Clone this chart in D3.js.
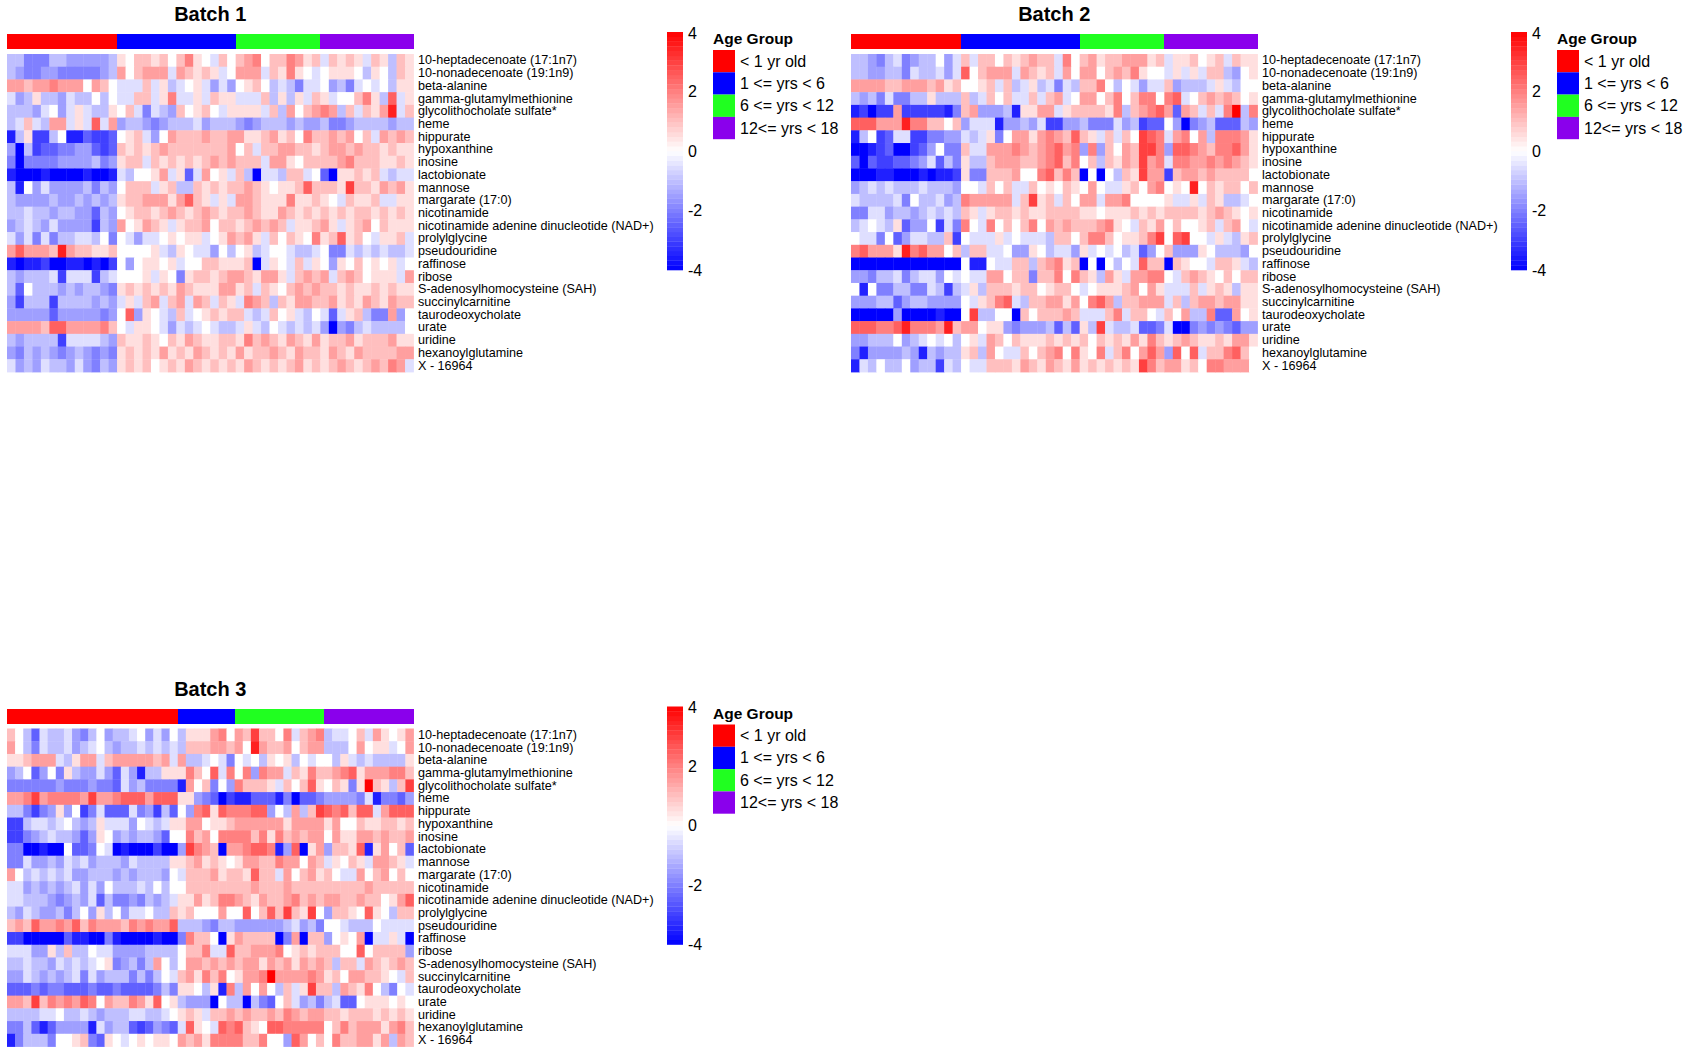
<!DOCTYPE html>
<html>
<head>
<meta charset="utf-8">
<script src="https://cdn.jsdelivr.net/npm/d3@7"></script>
<style>
  html, body { margin: 0; padding: 0; background: #fff; }
  svg { display: block; font-family: "Liberation Sans", Arial, Helvetica, sans-serif; }
</style>
</head>
<body>
<svg id="chart" width="1687" height="1052"></svg>
<script>
// ---------------- DATA ----------------
const metabolites = [
  "10-heptadecenoate (17:1n7)", "10-nonadecenoate (19:1n9)", "beta-alanine",
  "gamma-glutamylmethionine", "glycolithocholate sulfate*", "heme", "hippurate",
  "hypoxanthine", "inosine", "lactobionate", "mannose", "margarate (17:0)",
  "nicotinamide", "nicotinamide adenine dinucleotide (NAD+)", "prolylglycine",
  "pseudouridine", "raffinose", "ribose", "S-adenosylhomocysteine (SAH)",
  "succinylcarnitine", "taurodeoxycholate", "urate", "uridine",
  "hexanoylglutamine", "X - 16964"
];
const ageGroups = ["< 1 yr old", "1 <= yrs < 6", "6 <= yrs < 12", "12<= yrs < 18"];
const ageGroupColors = ["#FF0000", "#0000FF", "#20FF20", "#8A00EC"];
const colorTicks = [4, 2, 0, -2, -4];
const batchTitles = ["Batch 1", "Batch 2", "Batch 3"];

// number of samples (columns) per age group in each batch
const batch1GroupSizes = [13, 14, 10, 11];
const batch2GroupSizes = [13, 14, 10, 11];
const batch3GroupSizes = [21, 7, 11, 11];

// scaled values, one string per metabolite, one letter per sample:
// A=-4, B=-3.5, C=-3, D=-2.5, E=-2, F=-1.5, G=-1, H=-0.5, I=0, J=0.5, K=1, L=1.5, M=2, N=2.5, O=3, P=3.5, Q=4
const levelCodes = "ABCDEFGHIJKLMNOPQ";

const batch1Rows = [
  "GGEEEGGFFFFFG" + "JIKKJKIKMJIHKIKLMIKKMLJKHKJKJHKJGKJ",
  "GFEEFFEEEEEFG" + "LIKLLLHLKJKJHILLLHKJMJIHIJJJIGJIGKJ",
  "LLKLLMLLLILKI" + "HHHKHJGHIJHFHFIJKIGHGEHHIFGEHIHIGJJ",
  "HFGJGGFHGGIGI" + "HHKKHJMHHJHKJJHHHKGJGJHKJHIIKMJGNHJ",
  "GGGFHIFHJHGGJ" + "IKHEHGFKIJKIHJJJJHKGLIKLMLGKHKJLPHK",
  "GHKHGLLHJHNHL" + "FGGFEFGGGHFGGGFEFGGGFGFFGEEFGGGGFGG",
  "BGJCCGIBBDCCD" + "IJKHFILKKKLKKLLJJKLJKIMKKLKLIKHLKLK",
  "FAGCDDEEFFDCD" + "KJKJKLKKKKKKKLIKHKKLLKKJKLLKLKKJKJJ",
  "EAEEEEFFFFGEF" + "JKKHKJKJKJKLKLKKKHLLJIKKKKLMKKKJJKJ",
  "BAAABAAAABAAB" + "HGIIJLHJDHLIJHKGAHHGKKHIDAJJKJKHGHH",
  "GBIFHFFFFGEGF" + "IKKKHJKGGKJKJKKLKJIJJKNKKKJOKKJLKLJ",
  "GFFFFGFFGFGFG" + "JKKLLLJLNKJHJHLLKJJJMJJKJIHKJJKHHJJ",
  "GGHGGFGGFFDGF" + "IJKKJKLKJKLKJKKLKJJLKJKJKJKJKKJKJKJ",
  "FGHGFHFFFFCGF" + "LIJLKJHJKKLIKKJKLKLKHJJKLJHJKLIKJJJ",
  "HFHEHEGGHHGIE" + "IHFHHIJIJJHIJLKLJHKIKJIMJKNJKIHJJKH",
  "LNLLLKPLKKJJK" + "IIIIJHGJIHHFIGIJGHIIHGGHIEEHGHGHGGH",
  "BABBCAABBABAC" + "IFIJJIJHIIKKJJJKAHJIHKHJIFJIKIJIJHI",
  "GFGGGHCHHHCGH" + "IIIJHJIEJKKJKLLKJLLJHKLKLHKLKIJJJHL",
  "GDIGGGFGFGGFE" + "JKJKJKJLKJJJLLJKHKJIKLKLKKJKJJKJKJJ",
  "FCGGGCGGGGFGF" + "HJHKLHKLHLKHKJHMLKGKJLLKKLJKJLKJLKK",
  "FFFFFDFFFFFEF" + "INFJIHGKHIJKJKKHGHKIJHGIHDHJ" + "KGEELFI",
  "LLLLKNNLLLLMK" + "IHJJIHFHGHIHGGHJHGIHGHGHFAFEGHGGGGI",
  "GFGGGGCHHHHGF" + "KJJKJIKJLKJJKKJMKLKJLKJLJKKLJKKKLJJ",
  "FEGFGFEFGFEFE" + "JKJKJLJKJLKJKJLJKKLKJLKKJLKJLKKKKLL",
  "HFGFHGGFHFEGF" + "JKJKIJKJLKJKJKJLKJKJKLJKJKLKJKLKMLH"
];

const batch2Rows = [
  "GGFEGHEFGGIFH" + "KHKKIKJKLKKHMIKLJKKLLLJKHJJKIJKHKJJ",
  "GGFFGGEHGGHFH" + "NIKLLLHLKJKHLILLIKLKMJIIHJHJHKKGFIJ",
  "LLLLKKLLLKLJK" + "IIJKHKGHJGHEHGKKMIGIHFHHKFGGGHJHGII",
  "GFGEHEEGGJGGG" + "KGHKIKHHKHKLHILLIKMIKMMIMNHIKLKLKIJ",
  "BCACCLCCCCCBE" + "KLFFFGBJJLLHJKKKKJMGKLMNLDLKHKHMQGM",
  "NNNLLLPMMKKIK" + "FHHHBFFGFHCCFFGEEEHFGCDDIFAEFGDDDGF",
  "BGICDHHCCEEFF" + "HGHJEILLJLMLKNKJHKHKIONMHLMILGMMMLJ",
  "AABCDAACDFIEE" + "KHHLLLMLKLMNLMFMFKILKOOMFNNMLKMMNLJ",
  "DADCCDDEFHDGE" + "JGGKLLLKKLMNKMIKGKJLKOLMHMMLLMLMLKJ",
  "AAABBAAABABBC" + "JEEKKKLIIMNKMKAIAIGKJOLLCKLLKLKKKKI",
  "FGHGHGGGHGGGF" + "IIHKIKHHKIJIKJILIHHJKILMIJIPIKJKKIK",
  "HGGGGHEIGGHFG" + "MLLLLLHKOJKHKILLHLLMIIIIJHHJHKJGGHI",
  "EEHHFGGFGHGHG" + "KJHJKKJKJJKKKKJJIJJJKJKJKKKKJKLKJIJ",
  "GHIHGJDFFICHE" + "MIHMIKIKMILKLKKKLMJIHKJLIKIIJKHKLIH",
  "IHHEIDFHHGGKC" + "IHHHJHIHHHGKKIKMMKIJJKMOINOIIHJHGJK",
  "MNLLLJPMNLLIK" + "GKKHHIFFJIGHHFJHIHIGHDFIKFFFJIGGGFI",
  "AAAAAAAAAAAAA" + "IBBIHHKKGKLMJKAIAIGIHNKKAKJIIHKKJHG",
  "FFEGGHEGHHFIH" + "IHHLLIKKEKKMIMKJGLJHLLMMIHKLKJIKIKK",
  "IBIEEGGEEHGCG" + "HJGKKKJKKIJKKIHIJJJKLILJHHHKHJKJGJJ",
  "FFFGGDFGGFFFF" + "IHJKMNHGKKLLJLIMNLGKKLLLHKGKLLKLLJJ",
  "AAAAAFAAAABAA" + "IOGGIIAKIKKKLKHHHKMHKKIHKILGGMDDLIJ",
  "NNNMMNPMMMLPK" + "LLIJJFEFFFGDGDJGOHGGHDDEHAAEFEFEDFF",
  "FFGGGIFGHIHIG" + "IJHLKIKJJJKJKJKIKJKJLJMKJKLKJJKJLLJ",
  "EBFFFFGFBGFGG" + "JKGLIHHKIKLMIMJIMHKMILNLFNINHKKMNKI",
  "BHGIGGIFGGCHG" + "IHHKKKJLKJLKJLJKJKJKJOMKLLJKIMMLLLI"
];

const batch3Rows = [
  "KIGDHGGHFEGIFGGHIFHFI" + "GJJJLMI" + "LKOKKIMHKLM" + "GHHIKHLJIJL",
  "LIGEHGGHFGHIGFGGHGHGH" + "GKKKLLK" + "LIPLKKLIKLL" + "GGGILIJJHIL",
  "JJKLLLHGJLLHKLLLLLKLH" + "LGGHIHE" + "IHIGJIJGIHI" + "IGJHGHGGGGJ",
  "FGIDFIEJGFFHFDHFBGGJJ" + "JMKINHM" + "IMFMLLHKJMK" + "KLMNJLLLMMK",
  "EEEEEEFEEEFEEDHFGEEEE" + "BLIKEIF" + "MKKKJHKIKNJ" + "IKJEJQKJGKO",
  "LLMOLMMMMLOLLMNNNLNNN" + "JJFEDAC" + "BBDDDBEADDE" + "FFFFEHBEEDF",
  "GGECEFJFICEHDDDHEFCGD" + "IFMNJNM" + "MMNNFIGLGKO" + "NMNKNNHLNNN",
  "CCGHHGHIGFGJHHHFIHGHJ" + "JLLIJJK" + "LLLLLLJLLLL" + "JLIIKJJKKJK",
  "CCEFGHGGFDFJIFGFGGFDI" + "IMKLIMM" + "MMKMJMKLKLL" + "ILJJLLKLKKL",
  "EEAABAAIDDEIHABAAACAA" + "FOMLKAL" + "LMNNMBFNAJL" + "FKKJNBJLIKD",
  "EEHFFGFHGHFGGGFHGGGGJ" + "JKLJKJI" + "JLLKKMLLILK" + "HJIKJHLLKJH",
  "LIGHGHGHFFGGGFGFGGGFI" + "HKKKLJK" + "KJNKKHLIKLJ" + "KIHHLIKLIKI",
  "HHFGFGFGHFHFIGGGHGIGI" + "IKKKKKK" + "KKLKKKLKKKK" + "KKKKKLKKKKK",
  "HHGGGFEFGFHDGEEFEGFGH" + "JJLJKMM" + "LKJLKKLMKLK" + "LLKKLKKIJLN",
  "GFHGFFGEGIFJGIFHHIGGK" + "JKIIILI" + "INIKNKOKJOI" + "FKKJINJIGKK",
  "KLKNLLMLNKMLLLKMLMLLN" + "GGGFEGG" + "FFFFFFGHFGE" + "IIHGGGIHHHH",
  "CCAAAAADBBAAEBAAAABAA" + "EMKKIAJ" + "LKKKKAELAKK" + "FIJILAHHJHA",
  "HHHFFJGKGGIHHFFFFGGGG" + "IKKMHHN" + "KKLLLMIJKJK" + "KKIINIKKKKF",
  "GGHGGFHGHGHIJEFGEGLIG" + "ILLKLKL" + "KLLJLKLJLKL" + "KGKKHLKJKLK",
  "FFHGFGFGHEHFGGGEGEGIH" + "KLJMKMI" + "JLLMQLLLLML" + "JKILLKKJIHK",
  "DDDEDEEDDDEDDEDDDDEGE" + "JJIGJBM" + "GLILIGKHJOK" + "KGLKJMIGEIH",
  "LLKOKMLMLNMILKKMLJNIJ" + "GFFFAIG" + "GAGEDIKHFGE" + "GHDDIJJJIJI",
  "GGGGHHIGGHGFGGGHHGGHI" + "JKJHKKL" + "KLKKLKMLKLL" + "KKJKKKJKJKJ",
  "EEGDBDFFFFBHFGGDCDFED" + "HNJIHNM" + "NKJINNMMMMM" + "IKMKLLLJLMK",
  "BEGGGEIIJKEDJIHIJIJJI" + "LKLJMMM" + "MKKMIIFNLIK" + "IMKKLLJLGLK"
];

// ---------------- DRAWING ----------------
const svg = d3.select("#chart");

const heatColor = d3.scaleLinear()
  .domain([-4, 0, 4])
  .range(["#0000FF", "#FFFFFF", "#FF0000"])
  .interpolate(d3.interpolateRgb)
  .clamp(true);

function decodeRow(str) {
  return Array.from(str).map(ch => -4 + 0.5 * levelCodes.indexOf(ch));
}

const panels = [
  { title: batchTitles[0], rows: batch1Rows, sizes: batch1GroupSizes, dx: 0, dy: 0 },
  { title: batchTitles[1], rows: batch2Rows, sizes: batch2GroupSizes, dx: 844, dy: 0 },
  { title: batchTitles[2], rows: batch3Rows, sizes: batch3GroupSizes, dx: 0, dy: 674.5 }
];

const L = {
  hmLeft: 7, hmRight: 413.5, hmTop: 54, hmBottom: 372,
  annTop: 34, annBottom: 49.3,
  labelX: 418,
  cbLeft: 667, cbWidth: 16, cbTop: 32, cbBottom: 270,
  legX: 713, legTitleY: 44, legBoxTop: 50, legBoxW: 22, legBoxH: 22.3, legLabelX: 740
};

panels.forEach(p => {
  const nCols = d3.sum(p.sizes);
  const g = svg.append("g").attr("transform", `translate(${p.dx},${p.dy})`);

  const x = d3.scaleBand().domain(d3.range(nCols)).range([L.hmLeft, L.hmRight]);
  const y = d3.scaleBand().domain(metabolites).range([L.hmTop, L.hmBottom]);

  // title
  g.append("text")
    .attr("x", (L.hmLeft + L.hmRight) / 2)
    .attr("y", 21)
    .attr("text-anchor", "middle")
    .attr("font-weight", "bold")
    .attr("font-size", 20)
    .text(p.title);

  // age group annotation bar
  const starts = [];
  let acc = 0;
  p.sizes.forEach(s => { starts.push(acc); acc += s; });
  g.append("g").selectAll("rect")
    .data(p.sizes.map((s, i) => ({ start: starts[i], size: s, color: ageGroupColors[i] })))
    .join("rect")
    .attr("x", d => x(d.start))
    .attr("width", d => x.bandwidth() * d.size)
    .attr("y", L.annTop)
    .attr("height", L.annBottom - L.annTop)
    .attr("fill", d => d.color)
    .attr("shape-rendering", "crispEdges");

  // heatmap cells
  const cells = [];
  p.rows.forEach((str, r) => {
    decodeRow(str).forEach((v, c) => cells.push({ r: metabolites[r], c, v }));
  });
  g.append("g").selectAll("rect")
    .data(cells)
    .join("rect")
    .attr("x", d => x(d.c))
    .attr("y", d => y(d.r))
    .attr("width", x.bandwidth() + 0.4)
    .attr("height", y.bandwidth() + 0.4)
    .attr("fill", d => heatColor(d.v));

  // row labels
  g.append("g").selectAll("text")
    .data(metabolites)
    .join("text")
    .attr("x", L.labelX)
    .attr("y", d => y(d) + y.bandwidth() / 2)
    .attr("dominant-baseline", "central")
    .attr("font-size", 12.6)
    .attr("fill", "#000")
    .text(d => d);

  // colour bar
  const cy = d3.scaleLinear().domain([-4, 4]).range([L.cbBottom, L.cbTop]);
  const steps = d3.range(-4, 4, 0.16);
  g.append("g").selectAll("rect")
    .data(steps)
    .join("rect")
    .attr("x", L.cbLeft)
    .attr("width", L.cbWidth)
    .attr("y", d => cy(d + 0.16))
    .attr("height", d => cy(d) - cy(d + 0.16) + 0.3)
    .attr("fill", d => heatColor(d + 0.08));
  g.append("g").selectAll("text")
    .data(colorTicks)
    .join("text")
    .attr("x", L.cbLeft + L.cbWidth + 5)
    .attr("y", d => cy(d) + (d === 4 ? 1 : 0))
    .attr("dominant-baseline", "central")
    .attr("font-size", 16)
    .text(d => d);

  // age group legend
  g.append("text")
    .attr("x", L.legX)
    .attr("y", L.legTitleY)
    .attr("font-weight", "bold")
    .attr("font-size", 15.5)
    .text("Age Group");
  const leg = g.append("g").selectAll("g")
    .data(ageGroups)
    .join("g")
    .attr("transform", (d, i) => `translate(${L.legX},${L.legBoxTop + i * L.legBoxH})`);
  leg.append("rect")
    .attr("width", L.legBoxW)
    .attr("height", L.legBoxH)
    .attr("fill", (d, i) => ageGroupColors[i]);
  leg.append("text")
    .attr("x", L.legLabelX - L.legX)
    .attr("y", L.legBoxH / 2)
    .attr("dominant-baseline", "central")
    .attr("font-size", 16)
    .text(d => d);
});
</script>
</body>
</html>
